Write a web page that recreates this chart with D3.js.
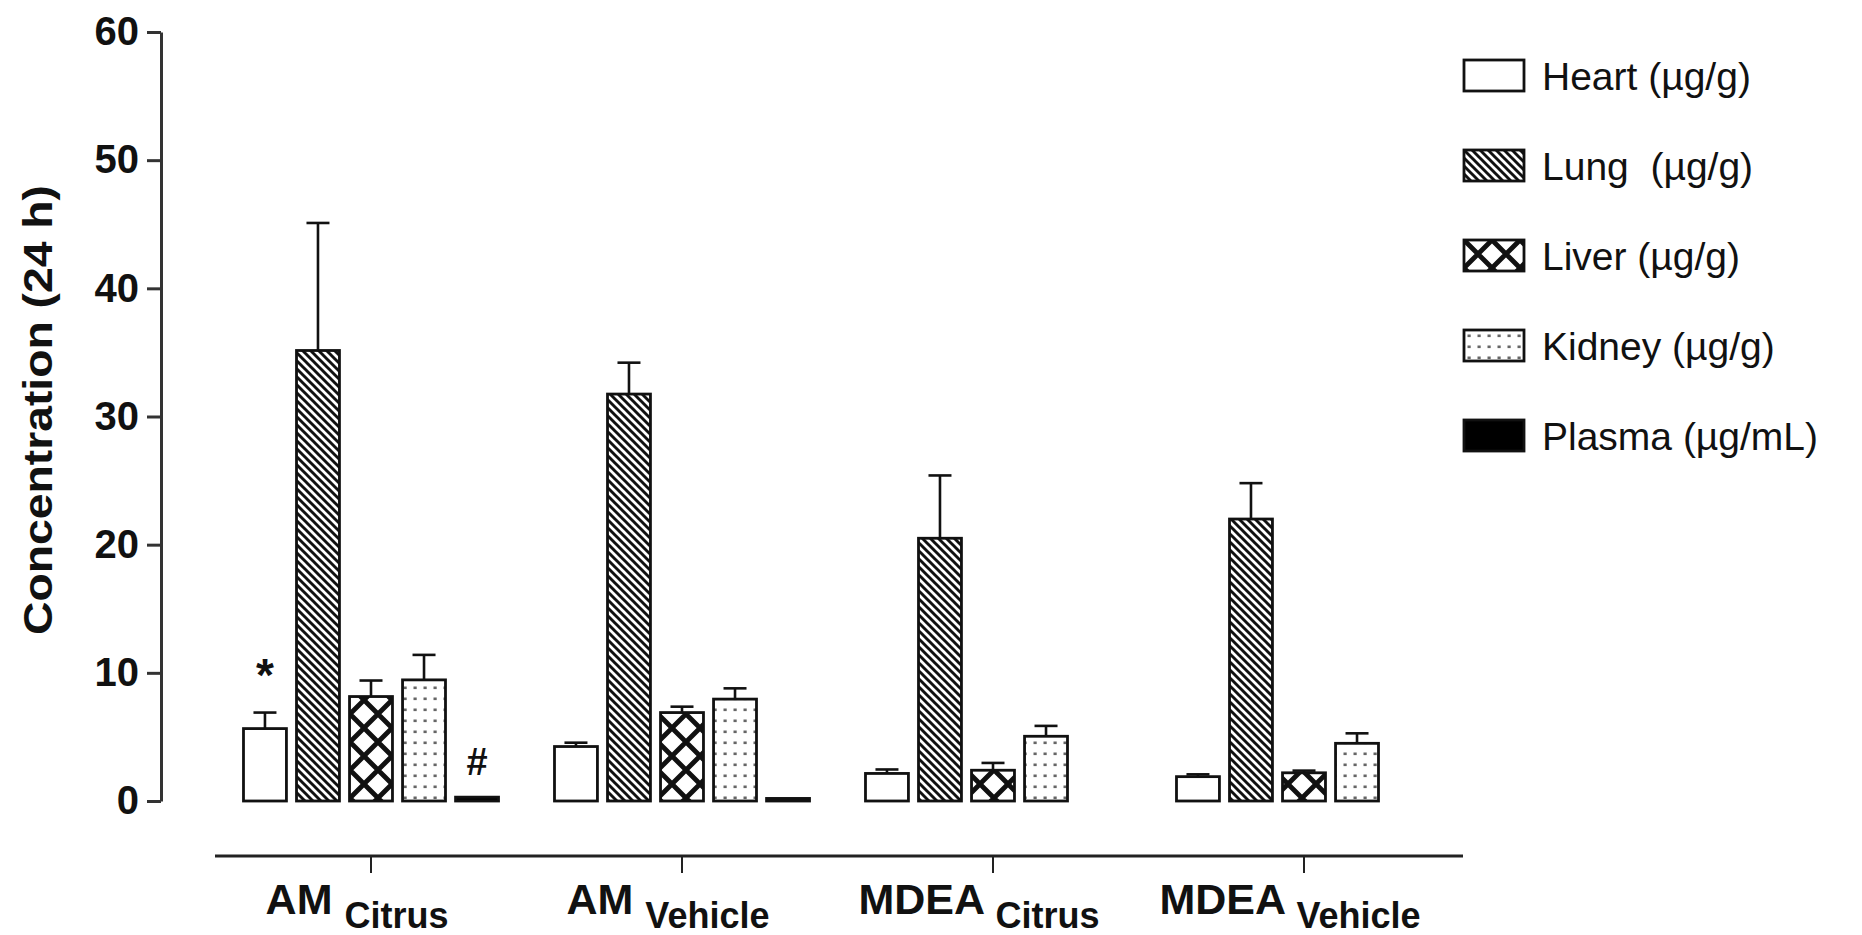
<!DOCTYPE html>
<html>
<head>
<meta charset="utf-8">
<script src="https://cdn.jsdelivr.net/npm/d3@7"></script>
<style>
  html, body { margin: 0; padding: 0; background: #fff; }
  svg { display: block; font-family: "Liberation Sans", Arial, sans-serif; }
</style>
</head>
<body>
<svg id="chart" width="1862" height="935"></svg>
<script>
// Groups on the x axis (main label + subscript)
const groupMain = ["AM", "AM", "MDEA", "MDEA"];
const groupSub  = ["Citrus", "Vehicle", "Citrus", "Vehicle"];

// Tissue series shown in each group
const seriesNames = ["Heart (µg/g)", "Lung  (µg/g)", "Liver (µg/g)", "Kidney (µg/g)", "Plasma (µg/mL)"];
const seriesKeys  = ["heart", "lung", "liver", "kidney", "plasma"];

// Mean concentrations at 24 h, one value per group
const heart  = [5.65, 4.25, 2.15, 1.90];
const lung   = [35.15, 31.75, 20.5, 22.0];
const liver  = [8.15, 6.90, 2.40, 2.20];
const kidney = [9.45, 7.95, 5.05, 4.50];
const plasma = [0.30, 0.20, null, null];

// Upper error (SEM), one value per group
const heartErr  = [1.25, 0.30, 0.31, 0.18];
const lungErr   = [9.95, 2.45, 4.90, 2.80];
const liverErr  = [1.25, 0.46, 0.57, 0.17];
const kidneyErr = [1.95, 0.84, 0.81, 0.78];
const plasmaErr = [null, null, null, null];

// Y axis ticks
const yTicks = [0, 10, 20, 30, 40, 50, 60];

// Significance markers: group index, series index, symbol
const markers = [
  { group: 0, series: 0, symbol: "*" },
  { group: 0, series: 4, symbol: "#" }
];

const means = { heart, lung, liver, kidney, plasma };
const errs  = { heart: heartErr, lung: lungErr, liver: liverErr, kidney: kidneyErr, plasma: plasmaErr };

const svg = d3.select("#chart");
const FONT = "'Liberation Sans', Arial, sans-serif";

// ---- hatch patterns ----
const defs = svg.append("defs");

const pLung = defs.append("pattern").attr("id", "pat-lung")
  .attr("patternUnits", "userSpaceOnUse").attr("width", 8).attr("height", 8);
pLung.append("rect").attr("width", 8).attr("height", 8).attr("fill", "#fff");
pLung.append("path").attr("d", "M-4,-4 L12,12 M-4,4 L4,12 M4,-4 L12,4")
  .attr("stroke", "#111").attr("stroke-width", 2.9);

const pLiver = defs.append("pattern").attr("id", "pat-liver")
  .attr("patternUnits", "userSpaceOnUse").attr("width", 28).attr("height", 28);
pLiver.append("rect").attr("width", 28).attr("height", 28).attr("fill", "#fff");
pLiver.append("path").attr("d", "M-2,-2 L30,30 M30,-2 L-2,30")
  .attr("stroke", "#111").attr("stroke-width", 4.8);

const pKid = defs.append("pattern").attr("id", "pat-kidney")
  .attr("patternUnits", "userSpaceOnUse").attr("width", 10).attr("height", 11);
pKid.append("rect").attr("width", 10).attr("height", 11).attr("fill", "#fff");
pKid.append("rect").attr("x", 3.5).attr("y", 4.5).attr("width", 3.2).attr("height", 2.6).attr("fill", "#666");

const fills = {
  heart: "#fff",
  lung: "url(#pat-lung)",
  liver: "url(#pat-liver)",
  kidney: "url(#pat-kidney)",
  plasma: "#000"
};

// ---- scales ----
const y = d3.scaleLinear().domain([0, 60]).range([801, 32]);

const x0 = d3.scaleBand()
  .domain(d3.range(groupMain.length))
  .range([215.5, 1459.5])
  .paddingInner(0.18)
  .paddingOuter(0.09);

const x1 = d3.scaleBand()
  .domain(seriesKeys)
  .range([0, x0.bandwidth()])
  .paddingInner(0.19)
  .paddingOuter(0);

// ---- y axis ----
const yAxis = d3.axisLeft(y).tickValues(yTicks).tickSize(14).tickSizeOuter(0).tickPadding(8);
const gy = svg.append("g").attr("transform", "translate(161,0)").call(yAxis);
gy.select(".domain").attr("stroke", "#333").attr("stroke-width", 3);
gy.selectAll(".tick line").attr("stroke", "#333").attr("stroke-width", 3);
gy.selectAll(".tick text")
  .attr("font-family", FONT).attr("font-size", 40).attr("font-weight", "bold").attr("fill", "#111");

svg.append("text")
  .attr("transform", "translate(52,410) rotate(-90)")
  .attr("text-anchor", "middle")
  .attr("font-family", FONT).attr("font-size", 40).attr("font-weight", "bold").attr("fill", "#111")
  .attr("textLength", 450).attr("lengthAdjust", "spacingAndGlyphs")
  .text("Concentration (24 h)");

// ---- x axis ----
const xAxisY = 856;
svg.append("line")
  .attr("x1", 215).attr("x2", 1463).attr("y1", xAxisY).attr("y2", xAxisY)
  .attr("stroke", "#222").attr("stroke-width", 3);

const gx = svg.append("g").attr("transform", `translate(0,${xAxisY})`)
  .call(d3.axisBottom(x0).tickSize(17).tickSizeOuter(0).tickFormat(() => ""));
gx.select(".domain").remove();
gx.selectAll(".tick line").attr("stroke", "#222").attr("stroke-width", 2);

const xl = svg.append("g").selectAll("text").data(d3.range(groupMain.length)).join("text")
  .attr("x", i => x0(i) + x0.bandwidth() / 2 - 14)
  .attr("y", 914)
  .attr("text-anchor", "middle")
  .attr("font-family", FONT).attr("font-weight", "bold").attr("fill", "#111")
  .style("white-space", "pre");
xl.append("tspan").attr("font-size", 43).text(i => groupMain[i] + " ");
xl.append("tspan").attr("font-size", 36).attr("dy", 14).text(i => groupSub[i]);

// ---- bars ----
const barData = [];
seriesKeys.forEach((k, si) => {
  means[k].forEach((v, gi) => {
    if (v != null) barData.push({ key: k, si, gi, v, e: errs[k][gi] });
  });
});

const gb = svg.append("g");
gb.selectAll("rect").data(barData).join("rect")
  .attr("x", d => x0(d.gi) + x1(d.key))
  .attr("y", d => y(d.v))
  .attr("width", x1.bandwidth())
  .attr("height", d => y(0) - y(d.v))
  .attr("fill", d => fills[d.key])
  .attr("stroke", "#111")
  .attr("stroke-width", 2.8);

// error bars (upper only)
const errData = barData.filter(d => d.e != null);
const ge = svg.append("g").attr("stroke", "#111").attr("stroke-width", 2.6);
ge.selectAll("line.stem").data(errData).join("line").attr("class", "stem")
  .attr("x1", d => x0(d.gi) + x1(d.key) + x1.bandwidth() / 2)
  .attr("x2", d => x0(d.gi) + x1(d.key) + x1.bandwidth() / 2)
  .attr("y1", d => y(d.v))
  .attr("y2", d => y(d.v + d.e));
ge.selectAll("line.cap").data(errData).join("line").attr("class", "cap")
  .attr("x1", d => x0(d.gi) + x1(d.key) + x1.bandwidth() / 2 - 11.5)
  .attr("x2", d => x0(d.gi) + x1(d.key) + x1.bandwidth() / 2 + 11.5)
  .attr("y1", d => y(d.v + d.e))
  .attr("y2", d => y(d.v + d.e));

// significance markers
svg.append("g").selectAll("text").data(markers).join("text")
  .attr("x", m => x0(m.group) + x1(seriesKeys[m.series]) + x1.bandwidth() / 2)
  .attr("y", m => {
    const k = seriesKeys[m.series];
    const top = means[k][m.group] + (errs[k][m.group] || 0);
    return y(top) - (m.symbol === "*" ? 22 : 22);
  })
  .attr("text-anchor", "middle")
  .attr("font-family", FONT).attr("font-weight", "bold").attr("fill", "#111")
  .attr("font-size", m => m.symbol === "*" ? 46 : 38)
  .text(m => m.symbol);

// ---- legend ----
const lg = svg.append("g").attr("transform", "translate(1464,60)");
const items = lg.selectAll("g").data(seriesKeys).join("g")
  .attr("transform", (d, i) => `translate(0,${i * 90})`);
items.append("rect")
  .attr("width", 60).attr("height", 31)
  .attr("fill", d => fills[d])
  .attr("stroke", "#111").attr("stroke-width", 2.8);
items.append("text")
  .attr("x", 78).attr("y", 30)
  .attr("font-family", FONT).attr("font-size", 39).attr("fill", "#111")
  .style("white-space", "pre")
  .text((d, i) => seriesNames[i]);
</script>
</body>
</html>
